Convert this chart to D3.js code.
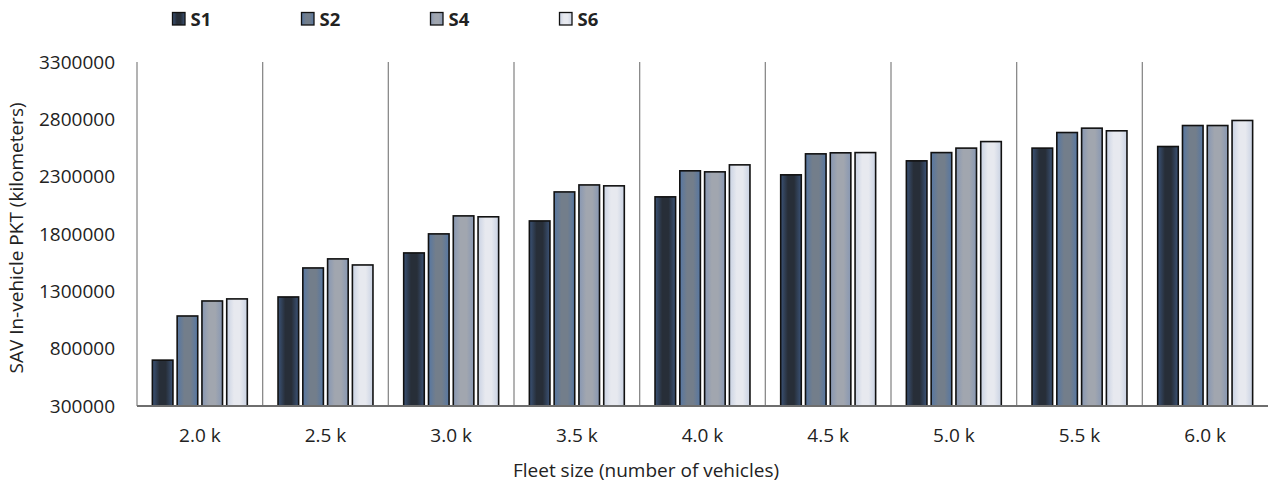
<!DOCTYPE html>
<html>
<head>
<meta charset="utf-8">
<script src="https://cdn.jsdelivr.net/npm/d3@7"></script>
<style>
  body { margin: 0; background: #fff; }
  text { font-family: "Open Sans", "Noto Sans", sans-serif; fill: #222; }
</style>
</head>
<body>
<div class="bar"></div>
<script>

// DATA ------------------------------------
const fleet = ["2.0 k", "2.5 k", "3.0 k", "3.5 k", "4.0 k", "4.5 k", "5.0 k", "5.5 k", "6.0 k"];
const series = ["S1", "S2", "S4", "S6"];
const s1 = [700000, 1251000, 1635000, 1914000, 2124000, 2316000, 2438000, 2549000, 2563000];
const s2 = [1085000, 1504000, 1801000, 2167000, 2351000, 2499000, 2510000, 2685000, 2746000];
const s4 = [1216000, 1583000, 1958000, 2228000, 2342000, 2508000, 2549000, 2723000, 2746000];
const s6 = [1234000, 1530000, 1950000, 2220000, 2403000, 2510000, 2606000, 2700000, 2790000];
const yTicks = [300000, 800000, 1300000, 1800000, 2300000, 2800000, 3300000];

const values = [s1, s2, s4, s6];
const data = fleet.map((f, i) => ({fleet: f, vals: series.map((s, j) => ({key: s, value: values[j][i]}))}));

// colours: edge / centre of each bar gradient
const shades = {
  S1: ["#3b5377", "#272e38"],
  S2: ["#5677a3", "#737e8b"],
  S4: ["#8797b3", "#a1a6af"],
  S6: ["#c9d2e3", "#e7e9ef"]
};

// CHART INIT ------------------------------
const margin = {top: 62, right: 0, bottom: 77, left: 137};
const width = 1268 - margin.left - margin.right;
const height = 483 - margin.top - margin.bottom;

const root = d3.select(".bar").append("svg")
  .attr("width", 1268)
  .attr("height", 483);

const defs = root.append("defs");
series.forEach(s => {
  const g = defs.append("linearGradient").attr("id", "grad-" + s)
    .attr("x1", "0%").attr("x2", "100%").attr("y1", "0%").attr("y2", "0%");
  g.append("stop").attr("offset", "0%").attr("stop-color", shades[s][0]);
  g.append("stop").attr("offset", "35%").attr("stop-color", shades[s][1]);
  g.append("stop").attr("offset", "65%").attr("stop-color", shades[s][1]);
  g.append("stop").attr("offset", "100%").attr("stop-color", shades[s][0]);
});

const svg = root.append("g")
  .attr("transform", `translate(${margin.left},${margin.top})`);

const xScale = d3.scaleBand()
  .domain(fleet)
  .range([0, width]);

const xxScale = d3.scaleBand()
  .domain(series)
  .range([0, xScale.bandwidth()])
  .paddingInner(0.17)
  .paddingOuter(0.62);

const yScale = d3.scaleLinear()
  .domain([300000, 3300000])
  .range([height, 0]);

// vertical separators between categories
svg.append("g")
  .selectAll("line")
  .data(fleet.slice(1))
  .join("line")
  .attr("x1", d => xScale(d))
  .attr("x2", d => xScale(d))
  .attr("y1", 0)
  .attr("y2", height)
  .attr("stroke", "#8a8a8a")
  .attr("stroke-width", 1.3);

// left axis line
svg.append("line")
  .attr("x1", 0).attr("x2", 0)
  .attr("y1", 0).attr("y2", height)
  .attr("stroke", "#8a8a8a")
  .attr("stroke-width", 1.3);

// y axis labels
const yAxis = d3.axisLeft(yScale).tickValues(yTicks).tickSize(0).tickPadding(22).tickFormat(d3.format("d"));
svg.append("g")
  .attr("class", "y-axis")
  .call(yAxis)
  .call(g => g.select(".domain").remove())
  .selectAll("text")
  .attr("font-size", 19)
  .attr("font-family", "'Open Sans', sans-serif")
  .attr("fill", "#222");

// bars
const groups = svg.append("g")
  .selectAll("g")
  .data(data)
  .join("g")
  .attr("transform", d => `translate(${xScale(d.fleet)},0)`);

groups.selectAll("rect")
  .data(d => d.vals)
  .join("rect")
  .attr("x", d => xxScale(d.key))
  .attr("y", d => yScale(d.value))
  .attr("width", xxScale.bandwidth())
  .attr("height", d => height - yScale(d.value))
  .attr("fill", d => `url(#grad-${d.key})`)
  .attr("stroke", "#111")
  .attr("stroke-width", 1.6);

// baseline
svg.append("line")
  .attr("x1", 0).attr("x2", width)
  .attr("y1", height).attr("y2", height)
  .attr("stroke", "#6e6e6e")
  .attr("stroke-width", 2);

// x axis labels
const xAxis = d3.axisBottom(xScale).tickSize(0).tickPadding(23);
svg.append("g")
  .attr("class", "x-axis")
  .attr("transform", `translate(0, ${height})`)
  .call(xAxis)
  .call(g => g.select(".domain").remove())
  .selectAll("text")
  .attr("font-size", 19)
  .attr("font-family", "'Open Sans', sans-serif")
  .attr("fill", "#222");

// axis titles
root.append("text")
  .attr("x", 646)
  .attr("y", 477)
  .attr("text-anchor", "middle")
  .attr("font-size", 19)
  .text("Fleet size (number of vehicles)");

root.append("text")
  .attr("transform", "translate(23,238) rotate(-90)")
  .attr("text-anchor", "middle")
  .attr("font-size", 19)
  .text("SAV In-vehicle PKT (kilometers)");

// legend
const legend = root.append("g")
  .selectAll("g")
  .data(series)
  .join("g")
  .attr("transform", (d, i) => `translate(${172.5 + i * 129},12.5)`);

legend.append("rect")
  .attr("width", 12.5)
  .attr("height", 12.5)
  .attr("fill", d => `url(#grad-${d})`)
  .attr("stroke", "#111")
  .attr("stroke-width", 1.3);

legend.append("text")
  .attr("x", 18)
  .attr("y", 13.2)
  .attr("font-size", 18.5)
  .attr("font-weight", "bold")
  .text(d => d);

</script>
</body>
</html>
